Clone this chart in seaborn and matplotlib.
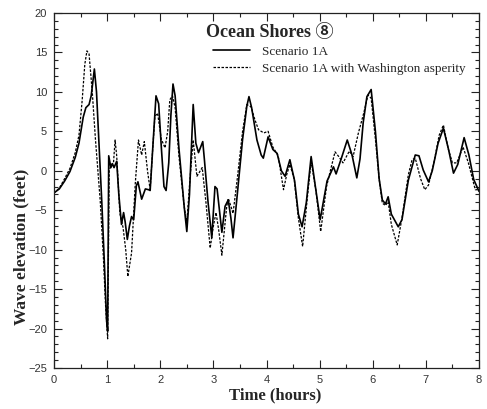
import numpy as np
import pandas as pd
import matplotlib
matplotlib.use("Agg")
import matplotlib.pyplot as plt
import seaborn as sns
from matplotlib.ticker import MultipleLocator

# ---- data ----
t_solid = [0.00, 0.10, 0.20, 0.30, 0.40, 0.47, 0.55, 0.60, 0.66, 0.70, 0.76, 0.80, 0.85, 0.90, 0.95, 0.99, 1.01,
           1.03, 1.07, 1.10, 1.13, 1.18, 1.22, 1.27, 1.31, 1.34, 1.38, 1.42, 1.46, 1.50, 1.55, 1.58, 1.65, 1.72,
           1.78, 1.81, 1.86, 1.92, 1.97, 2.02, 2.07, 2.11, 2.16, 2.20, 2.24, 2.28, 2.35, 2.45, 2.50, 2.55, 2.62,
           2.67, 2.72, 2.80, 2.83, 2.90, 2.97, 3.03, 3.07, 3.16, 3.22, 3.28, 3.33, 3.37, 3.45, 3.55, 3.63, 3.67,
           3.72, 3.82, 3.90, 3.94, 4.03, 4.12, 4.20, 4.28, 4.35, 4.44, 4.53, 4.60, 4.67, 4.75, 4.84, 4.92, 5.01,
           5.14, 5.26, 5.31, 5.42, 5.52, 5.61, 5.70, 5.76, 5.82, 5.89, 5.97, 6.05, 6.12, 6.18, 6.24, 6.29, 6.35,
           6.48, 6.55, 6.67, 6.80, 6.87, 6.95, 7.05, 7.12, 7.23, 7.33, 7.43, 7.52, 7.60, 7.72, 7.81, 7.90, 8.00]
v_solid = [-2.8, -2.3, -1.3, -0.1, 1.7, 3.5, 6.8, 8.0, 8.4, 9.5, 12.9, 10.0, 3.0, -4.0, -12.0, -19.0, -20.3,
           1.9, 0.4, 0.9, 0.4, 1.2, -3.0, -6.8, -5.3, -6.5, -8.7, -7.0, -5.8, -6.2, -1.9, -1.4, -3.6, -2.3,
           -2.4, -2.5, 3.0, 9.5, 8.5, 3.0, -2.0, -2.5, 1.0, 7.0, 11.0, 9.5, 3.0, -4.5, -7.7, -3.0, 8.4,
           3.5, 2.3, 3.7, 1.5, -4.0, -8.5, -2.0, -2.3, -7.8, -4.5, -3.7, -6.0, -8.5, -3.0, 4.0, 8.2, 9.4,
           8.0, 3.9, 2.0, 1.6, 4.3, 2.7, 2.2, 0.0, -0.7, 1.4, -1.3, -5.5, -7.1, -4.0, 1.8, -2.0, -6.2,
           -1.3, 0.5, -0.4, 1.8, 3.9, 2.0, -0.9, 1.5, 6.1, 9.4, 10.3, 5.0, -1.0, -3.7, -4.2, -3.3, -5.5,
           -7.1, -6.2, -1.2, 2.0, 1.9, 0.1, -1.4, 0.0, 3.5, 5.4, 2.6, -0.3, 0.8, 4.2, 2.0, -1.1, -2.6]

t_dash = [0.00, 0.10, 0.20, 0.30, 0.40, 0.47, 0.53, 0.58, 0.62, 0.66, 0.72, 0.78, 0.87, 0.93, 0.97, 1.01,
          1.04, 1.08, 1.12, 1.15, 1.18, 1.24, 1.30, 1.35, 1.39, 1.46, 1.53, 1.59, 1.65, 1.70, 1.76, 1.81,
          1.86, 1.90, 1.95, 2.02, 2.09, 2.14, 2.18, 2.23, 2.28, 2.35, 2.45, 2.50, 2.56, 2.62, 2.69, 2.79,
          2.86, 2.94, 3.00, 3.05, 3.10, 3.16, 3.25, 3.28, 3.33, 3.37, 3.45, 3.55, 3.63, 3.71, 3.78, 3.85,
          3.95, 4.03, 4.12, 4.22, 4.32, 4.38, 4.44, 4.52, 4.60, 4.68, 4.76, 4.84, 4.93, 5.02, 5.13, 5.22,
          5.29, 5.36, 5.44, 5.56, 5.63, 5.73, 5.83, 5.91, 5.97, 6.05, 6.12, 6.18, 6.24, 6.29, 6.35, 6.46,
          6.55, 6.67, 6.74, 6.80, 6.90, 6.98, 7.05, 7.15, 7.25, 7.33, 7.42, 7.50, 7.58, 7.70, 7.80, 7.93, 8.00]
v_dash = [-2.8, -2.2, -1.0, 0.3, 2.3, 4.5, 8.9, 13.5, 15.2, 14.8, 10.0, 4.0, -3.8, -11.0, -17.0, -21.3,
          0.1, 0.8, 1.0, 3.9, 1.9, -5.4, -7.2, -10.0, -13.4, -10.4, -1.6, 3.9, 2.0, 3.7, 0.0, -2.4,
          3.0, 6.9, 7.3, 4.0, 2.9, 5.0, 9.0, 9.5, 8.0, 2.0, -4.5, -6.6, -1.0, 3.9, -0.7, 0.4,
          -4.0, -9.8, -7.0, -5.3, -7.5, -10.7, -4.6, -3.5, -4.5, -5.4, -1.0, 5.0, 8.4, 8.1, 6.5, 5.2,
          4.8, 5.0, 3.0, 1.9, -2.4, -0.5, 0.8, -1.0, -6.0, -9.6, -4.0, 1.2, -2.5, -7.7, -2.0, 0.5,
          2.4, 1.8, 1.0, 2.5, 1.8, 4.8, 7.3, 9.6, 9.2, 4.0, -1.0, -4.1, -4.4, -3.9, -6.8, -9.4,
          -6.0, -0.5, 1.4, 1.6, -1.0, -2.4, -1.8, 1.0, 4.5, 5.8, 2.8, 1.0, 1.0, 3.0, 1.0, -2.4, -2.4]

label_solid = "Scenario 1A"
label_dash = "Scenario 1A with Washington asperity"
title_text = "Ocean Shores \u2467"
x_label = "Time (hours)"
y_label = "Wave elevation (feet)"
x_ticks = [0, 1, 2, 3, 4, 5, 6, 7, 8]
y_ticks = [-25, -20, -15, -10, -5, 0, 5, 10, 15, 20]

df_solid = pd.DataFrame({"t": t_solid, "v": v_solid})
df_dash = pd.DataFrame({"t": t_dash, "v": v_dash})

sns.set_theme(style="ticks")
plt.rcParams["font.family"] = ["Liberation Sans", "DejaVu Sans"]

fig = plt.figure(figsize=(4.87, 4.09), dpi=100)
ax = fig.add_axes([54/487, 1-368/409, 425/487, 355/409])

sns.lineplot(data=df_solid, x="t", y="v", ax=ax, color="black", linewidth=1.2,
             estimator=None, sort=False, label=label_solid)
sns.lineplot(data=df_dash, x="t", y="v", ax=ax, color="black", linewidth=0.9,
             estimator=None, sort=False, label=label_dash, dashes=False)
ax.lines[1].set_dashes([2.0, 1.2])

ax.set_xlim(0, 8)
ax.set_ylim(-25, 20)
ax.set_xticks(x_ticks)
ax.set_yticks(y_ticks)
ax.xaxis.set_minor_locator(MultipleLocator(0.5))
ax.yaxis.set_minor_locator(MultipleLocator(1))
ax.tick_params(which="both", direction="in", top=True, right=True, colors="#222222",
               labelsize=8, width=0.8, labelcolor="#333333")
ax.tick_params(which="major", length=6, pad=5)
ax.tick_params(which="minor", length=3)
for s in ax.spines.values():
    s.set_linewidth(0.9)
    s.set_color("#222222")

serif = ["Liberation Serif", "DejaVu Serif", "Noto Sans CJK JP"]
ax.set_xlabel(x_label, family=serif, fontweight="bold", fontsize=12, labelpad=2)
ax.xaxis.set_label_coords(0.52, -0.055)
ax.set_ylabel(y_label, family=serif, fontweight="bold", fontsize=12.5)
ax.yaxis.set_label_coords(-0.058, 0.34)

ax.text(0.508, 0.946, title_text, transform=ax.transAxes, family=serif,
        fontweight="bold", fontsize=13, ha="center", va="center")

leg = ax.legend(loc="upper left", bbox_to_anchor=(0.374, 0.909), frameon=False,
                prop={"family": serif, "size": 9.5}, handlelength=2.8, handletextpad=0.9,
                labelspacing=0.36, borderpad=0, borderaxespad=0)

fig.savefig("out.png", dpi=100)
